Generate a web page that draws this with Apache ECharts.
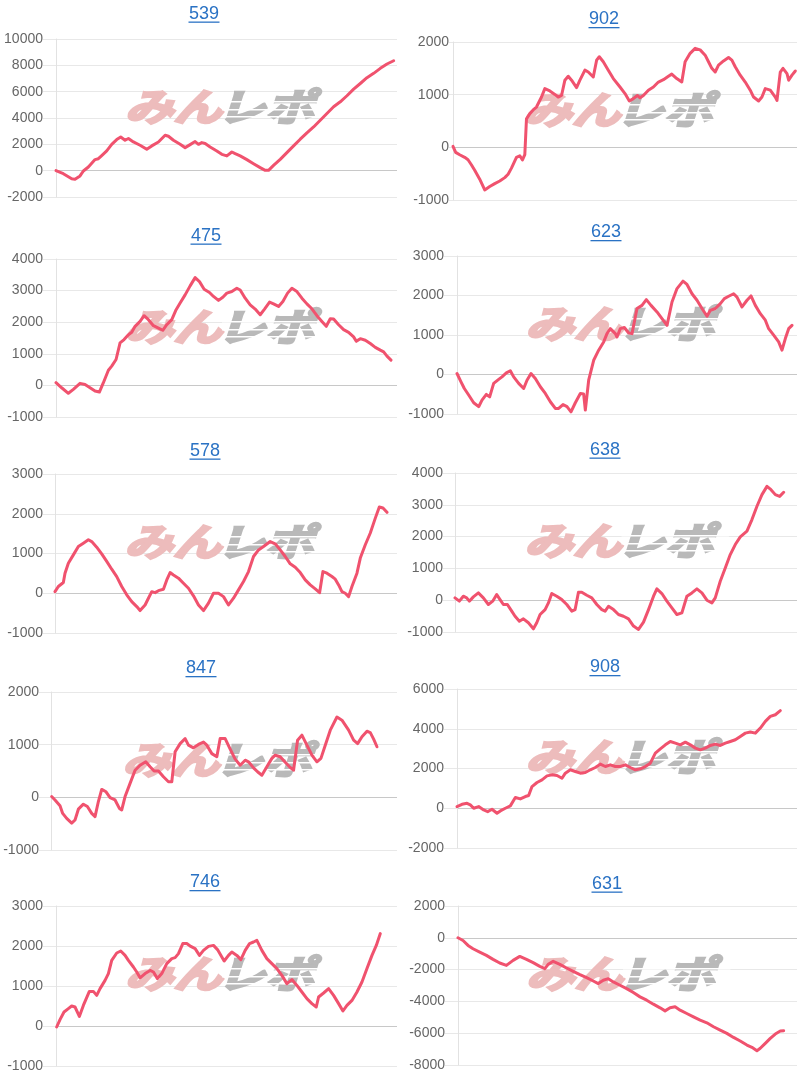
<!DOCTYPE html>
<html><head><meta charset="utf-8">
<script src="https://cdn.jsdelivr.net/npm/echarts@6/dist/echarts.min.js"></script>
<style>html,body{margin:0;padding:0;background:#fff}#c{width:800px;height:1080px}</style>
</head><body><div id="c"></div>
<script>
// ---- data ----
const titles = ['539','902','475','623','578','638','847','908','746','631'];

const s539 = [[0,0],[22,-230],[47,-610],[57,-660],[72,-400],[82,-25],[97,280],[117,840],[127,910],[137,1140],[152,1500],[167,2000],[182,2360],[194,2560],[207,2310],[217,2440],[232,2180],[252,1930],[272,1620],[287,1880],[307,2180],[327,2690],[337,2610],[352,2310],[372,2000],[387,1750],[402,1980],[417,2210],[427,2000],[437,2130],[447,2060],[462,1800],[482,1500],[497,1240],[512,1120],[527,1420],[537,1290],[552,1120],[572,840],[592,530],[612,230],[627,25],[637,25],[652,400],[672,860],[692,1370],[712,1880],[732,2390],[752,2870],[772,3320],[792,3830],[812,4340],[832,4850],[852,5230],[872,5690],[892,6190],[912,6620],[932,7060],[952,7390],[972,7770],[992,8100],[1012,8350]];

const s902 = [[0,20],[8,-95],[20,-140],[35,-190],[45,-235],[55,-330],[65,-435],[80,-605],[95,-810],[110,-745],[125,-690],[140,-640],[155,-575],[165,-510],[175,-395],[190,-190],[200,-160],[208,-240],[215,-140],[220,540],[230,640],[240,710],[250,765],[255,750],[265,955],[275,1115],[290,1070],[305,1005],[315,955],[325,985],[335,1275],[345,1350],[355,1275],[370,1135],[380,1275],[395,1465],[405,1430],[420,1335],[430,1655],[438,1720],[450,1625],[465,1465],[480,1305],[500,1145],[515,1020],[528,880],[540,925],[552,985],[560,940],[570,985],[585,1085],[600,1145],[615,1240],[630,1285],[645,1350],[655,1390],[670,1305],[685,1240],[695,1625],[710,1785],[725,1880],[740,1850],[755,1750],[765,1625],[775,1500],[785,1430],[795,1560],[810,1640],[825,1705],[835,1655],[845,1530],[860,1370],[875,1240],[890,1085],[900,955],[915,880],[925,955],[935,1115],[950,1085],[965,955],[970,890],[980,1430],[988,1500],[1000,1400],[1005,1275],[1015,1370],[1025,1450]];

const s475 = [[0,85],[17,-75],[37,-250],[52,-125],[72,65],[87,30],[102,-75],[117,-180],[130,-210],[142,85],[157,480],[167,610],[180,820],[192,1345],[204,1450],[217,1605],[227,1680],[237,1870],[252,2025],[264,2205],[277,2080],[292,1890],[307,1815],[320,1745],[332,1920],[347,2080],[360,2395],[372,2605],[387,2865],[402,3150],[417,3410],[430,3285],[444,3045],[460,2940],[472,2815],[487,2690],[500,2790],[512,2920],[527,2970],[542,3075],[552,3020],[567,2760],[582,2550],[597,2415],[612,2235],[625,2415],[640,2635],[652,2580],[667,2500],[680,2655],[694,2920],[707,3075],[722,2970],[737,2760],[752,2580],[767,2425],[782,2205],[797,2025],[810,1870],[822,2110],[832,2100],[847,1920],[862,1765],[877,1680],[892,1535],[900,1395],[912,1480],[927,1430],[942,1325],[957,1205],[972,1115],[982,1060],[992,925],[1004,800]];

const s623 = [[0,25],[12,-185],[22,-355],[35,-520],[50,-715],[65,-815],[75,-650],[88,-505],[98,-565],[110,-225],[125,-125],[135,-60],[148,40],[160,95],[170,-60],[185,-225],[200,-355],[210,-145],[222,25],[235,-100],[250,-310],[265,-480],[280,-690],[295,-860],[305,-860],[318,-760],[330,-815],[342,-945],[355,-715],[370,-480],[380,-495],[385,-900],[395,-145],[410,360],[425,615],[440,825],[450,1035],[460,1160],[475,1035],[480,950],[490,1160],[502,1190],[515,1050],[525,1035],[540,1670],[555,1750],[568,1895],[582,1750],[600,1585],[615,1415],[630,1245],[645,1835],[660,2175],[678,2365],[690,2280],[705,2045],[720,1880],[735,1670],[750,1475],[760,1625],[775,1670],[790,1795],[802,1920],[815,1980],[830,2045],[840,1960],[855,1710],[870,1880],[882,1990],[895,1750],[910,1540],[925,1375],[935,1160],[950,995],[965,825],[975,615],[985,910],[995,1160],[1005,1245]];

const s578 = [[0,40],[10,170],[25,270],[30,505],[40,755],[55,965],[70,1175],[85,1260],[100,1345],[110,1300],[125,1160],[140,990],[155,800],[170,605],[185,420],[200,170],[215,-40],[230,-210],[245,-335],[255,-435],[270,-295],[280,-125],[290,40],[300,15],[310,65],[325,100],[335,335],[345,520],[355,460],[370,380],[385,250],[400,125],[415,-65],[430,-295],[445,-435],[460,-250],[475,0],[490,0],[505,-85],[520,-295],[535,-125],[550,85],[565,295],[580,545],[595,925],[610,1090],[625,1175],[645,1300],[660,1245],[675,1090],[690,925],[705,740],[720,655],[735,520],[750,335],[765,210],[780,110],[793,15],[803,545],[815,505],[830,420],[840,355],[850,210],[860,40],[870,0],[880,-85],[890,170],[905,505],[915,885],[930,1220],[945,1515],[960,1890],[972,2170],[983,2145],[995,2035]];

const s638 = [[0,75],[13,-30],[25,125],[35,75],[43,-30],[55,105],[70,230],[85,75],[100,-135],[113,-30],[125,180],[135,20],[145,-135],[157,-135],[170,-345],[180,-505],[193,-660],[205,-585],[220,-710],[235,-900],[245,-710],[255,-450],[270,-295],[280,-85],[290,210],[305,125],[320,20],[335,-135],[350,-345],[360,-295],[370,250],[380,250],[395,155],[410,75],[425,-135],[440,-295],[450,-345],[460,-190],[475,-295],[490,-450],[505,-505],[520,-585],[535,-815],[550,-920],[565,-690],[580,-295],[595,125],[605,355],[620,210],[635,-30],[650,-240],[665,-450],[680,-400],[695,125],[710,230],[725,355],[740,230],[755,0],[770,-85],[780,75],[795,595],[810,1015],[825,1435],[840,1750],[855,1990],[875,2170],[890,2535],[905,2955],[920,3320],[935,3580],[947,3475],[960,3320],[973,3265],[985,3395]];

const s847 = [[2,15],[12,-50],[27,-160],[35,-305],[47,-400],[62,-490],[72,-430],[82,-225],[97,-130],[109,-175],[122,-305],[132,-365],[142,-80],[152,150],[165,105],[177,-5],[192,-50],[205,-210],[212,-240],[222,15],[237,265],[252,515],[267,610],[284,675],[297,580],[309,500],[322,500],[337,390],[352,295],[362,295],[372,865],[387,1020],[402,1115],[412,990],[427,940],[442,1005],[457,1050],[467,990],[482,830],[497,770],[507,1115],[522,1115],[537,915],[552,725],[567,610],[582,705],[592,675],[607,560],[619,485],[632,420],[647,580],[662,740],[672,800],[687,770],[702,665],[715,580],[727,515],[739,1085],[752,1180],[767,990],[782,800],[797,675],[809,740],[822,990],[837,1275],[857,1525],[872,1465],[892,1275],[907,1085],[919,1020],[932,1150],[947,1255],[957,1230],[967,1105],[977,960]];

const s908 = [[0,85],[15,200],[30,250],[40,170],[50,0],[65,85],[80,-85],[92,-170],[105,-50],[120,-250],[130,-135],[145,0],[160,120],[175,540],[190,470],[205,590],[215,640],[225,1090],[240,1295],[255,1430],[270,1630],[285,1680],[300,1650],[315,1510],[325,1765],[340,1935],[355,1850],[370,1765],[385,1800],[400,1935],[415,2050],[430,2220],[445,2100],[460,2185],[475,2100],[490,2100],[505,2185],[520,2050],[535,1935],[550,1985],[565,2100],[580,2270],[595,2775],[610,2990],[625,3190],[640,3360],[655,3275],[670,3190],[685,3325],[700,3190],[715,3025],[730,2940],[745,3025],[760,3160],[775,3225],[790,3160],[805,3275],[820,3360],[835,3445],[850,3615],[865,3780],[880,3835],[895,3780],[910,4035],[925,4370],[940,4620],[955,4705],[970,4910]];

const s746 = [[2,-25],[12,160],[24,350],[37,435],[47,500],[57,475],[70,240],[82,515],[100,865],[112,865],[122,765],[132,935],[147,1140],[157,1310],[167,1640],[182,1825],[194,1875],[207,1765],[217,1640],[232,1475],[242,1350],[252,1205],[267,1310],[282,1390],[292,1350],[304,1185],[317,1310],[332,1560],[347,1685],[357,1710],[367,1810],[380,2060],[392,2060],[404,1990],[417,1935],[430,1765],[442,1890],[457,1990],[472,2015],[484,1910],[497,1725],[504,1625],[517,1765],[527,1850],[542,1765],[554,1660],[567,1890],[580,2060],[592,2100],[602,2140],[617,1890],[632,1685],[647,1560],[662,1435],[677,1265],[692,1060],[707,1160],[722,1015],[737,850],[752,685],[767,560],[780,475],[787,725],[802,825],[817,935],[832,765],[847,560],[860,375],[872,515],[887,640],[902,850],[917,1100],[932,1435],[947,1765],[960,2015],[972,2310]];

const s631 = [[0,0],[15,-170],[30,-480],[45,-690],[65,-900],[85,-1105],[105,-1355],[125,-1585],[145,-1735],[165,-1420],[185,-1170],[205,-1355],[225,-1565],[245,-1795],[260,-1940],[270,-1670],[285,-1480],[305,-1670],[325,-1900],[345,-2110],[365,-2315],[385,-2505],[405,-2715],[420,-2880],[435,-2670],[450,-2570],[465,-2775],[485,-2985],[505,-3195],[525,-3445],[545,-3715],[565,-3925],[585,-4175],[605,-4405],[620,-4595],[635,-4405],[650,-4340],[665,-4550],[685,-4760],[705,-4970],[725,-5180],[745,-5345],[765,-5595],[785,-5805],[805,-6010],[825,-6265],[845,-6490],[865,-6745],[880,-6890],[895,-7100],[905,-6950],[920,-6640],[935,-6325],[950,-6055],[965,-5865],[975,-5845]];

const seriesData = [s539, s902, s475, s623, s578, s638, s847, s908, s746, s631];
const yMins  = [-2000, -1000, -1000, -1000, -1000, -1000, -1000, -2000, -1000, -8000];
const yMaxs  = [10000,  2000,  4000,  3000,  3000,  4000,  2000,  6000,  3000,  2000];
const ySteps = [ 2000,  1000,  1000,  1000,  1000,  1000,  1000,  2000,  1000,  2000];
const xMaxs  = [1022, 1030, 1022, 1020, 1025, 1025, 1037, 1020, 1022, 1015];

// ---- layout (pixels) ----
const boxes = [
  [56, 39, 397, 197], [453, 42, 797, 200],
  [56, 259, 397, 417], [457, 256, 797, 414],
  [55, 474, 397, 633], [455, 473, 797, 632],
  [51, 692, 397, 850], [457, 689, 797, 848],
  [56, 906, 397, 1066], [458, 906, 797, 1065]
];
const titlePos = [[204,14],[604,19.5],[206,236],[606,232.5],[205,451],[605,450],[201,668.5],[605,667.5],[205,882.5],[607,884]];
const labelGaps = [13, 4, 13, 13, 12, 12, 12, 13, 13, 13];

const LINE = 'rgb(240,82,110)';
const GRID = '#e8e8e8';
const ZERO = '#c8c8c8';
const LINK = '#2a72c4';
const FONT = '"Liberation Sans", Arial, sans-serif';

const grids = [], xAxes = [], yAxes = [], series = [], graphics = [];
boxes.forEach((b, i) => {
  grids.push({ left: b[0], top: b[1], width: b[2] - b[0], height: b[3] - b[1], containLabel: false });
  xAxes.push({ type: 'value', gridIndex: i, min: 0, max: xMaxs[i], show: false });
  const n = Math.round((yMaxs[i] - yMins[i]) / ySteps[i]);
  const cols = [];
  for (let k = 0; k <= n; k++) cols.push(yMins[i] + k * ySteps[i] === 0 ? ZERO : GRID);
  yAxes.push({
    type: 'value', gridIndex: i, min: yMins[i], max: yMaxs[i], interval: ySteps[i],
    axisLine: { show: true, onZero: false, lineStyle: { color: '#e2e2e2', width: 1 } },
    axisTick: { show: true, length: labelGaps[i], lineStyle: { color: GRID } },
    axisLabel: { margin: labelGaps[i], color: '#666', fontSize: 14, fontFamily: FONT,
      formatter: v => String(v) },
    splitLine: { show: true, lineStyle: { color: cols, width: 1 } }
  });
  series.push({
    type: 'line', xAxisIndex: i, yAxisIndex: i, data: seriesData[i],
    showSymbol: false, symbol: 'none', silent: true, z: 3,
    lineStyle: { color: LINE, width: 3, join: 'round', cap: 'round' },
    itemStyle: { color: LINE }
  });
  const tp = titlePos[i];
  graphics.push({
    type: 'text', x: tp[0], y: tp[1], z: 10,
    style: { text: titles[i], font: '18px ' + FONT, fill: LINK,
      textAlign: 'center', textVerticalAlign: 'middle', align: 'center', verticalAlign: 'middle' }
  });
  graphics.push({ type: 'rect', z: 10, shape: { x: tp[0] - 15.5, y: tp[1] + 7.5, width: 31, height: 1.3 }, style: { fill: LINK } });
  const cx = (b[0] + b[2]) / 2 - 2, cy = b[1] + 68;
  const wmFont = 'italic bold 38px "Noto Sans CJK JP", sans-serif';
  graphics.push({
    type: 'group', x: cx, y: cy, scaleX: 1.28,
    children: [
      { type: 'text', x: -2, y: 0, z: 1, style: { text: 'みん', font: wmFont, fill: '#edbcbc',
        stroke: '#edbcbc', lineWidth: 2.5,
        textAlign: 'right', textVerticalAlign: 'middle', align: 'right', verticalAlign: 'middle' } },
      { type: 'text', x: -6, y: 0, z: 1, style: { text: 'レポ', font: wmFont, fill: '#b9b9b9',
        stroke: '#b9b9b9', lineWidth: 2.5,
        textAlign: 'left', textVerticalAlign: 'middle', align: 'left', verticalAlign: 'middle' } },
      { type: 'rect', z: 1, shape: { x: -2, y: -6, width: 84, height: 1.5 }, style: { fill: '#fff' } },
      { type: 'rect', z: 1, shape: { x: -2, y: 2, width: 84, height: 1.5 }, style: { fill: '#fff' } },
      { type: 'rect', z: 1, shape: { x: -2, y: 9, width: 84, height: 1.5 }, style: { fill: '#fff' } }
    ]
  });
});

const chart = echarts.init(document.getElementById('c'), null, { renderer: 'canvas' });
chart.setOption({
  animation: false,
  backgroundColor: '#fff',
  grid: grids, xAxis: xAxes, yAxis: yAxes, series: series,
  graphic: { elements: graphics }
});
</script></body></html>
